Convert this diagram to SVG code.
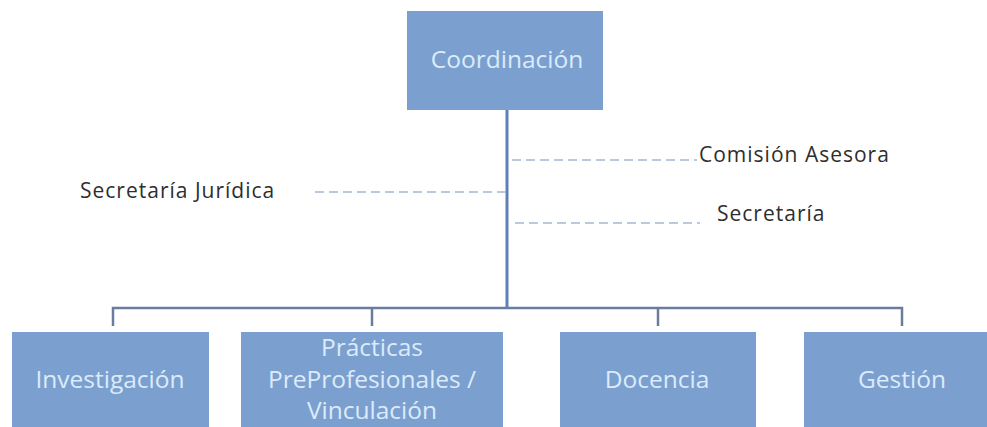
<svg xmlns="http://www.w3.org/2000/svg" width="987" height="427" viewBox="0 0 987 427">
  <style>
    .box { fill: #7ba0cf; }
    .boxtext { font-family: "Open Sans", "Liberation Sans", sans-serif; font-size: 24.5px; fill: #dcebfa; text-anchor: middle; }
    .label { font-family: "Open Sans", "Liberation Sans", sans-serif; font-size: 21px; letter-spacing: 1px; fill: #2e2e2e; }
    .trunk { stroke: #5f7fb8; stroke-width: 3; fill: none; }
    .bus { stroke: #6b7d9e; stroke-width: 2.5; fill: none; }
    .dash { stroke: #a7b6d3; stroke-width: 1.5; stroke-dasharray: 9 5; fill: none; }
  </style>
  <rect width="987" height="427" fill="#ffffff"/>

  <!-- connectors -->
  <g id="connectors">
    <line class="trunk" x1="507" y1="110" x2="507" y2="308"/>
    <path class="bus" d="M113 326 V308 H902 V326 M372 308 V326 M658 308 V326"/>
    <line class="dash" x1="512" y1="160" x2="697" y2="160"/>
    <line class="dash" x1="315" y1="192" x2="506" y2="192"/>
    <line class="dash" x1="515" y1="223" x2="700" y2="223"/>
  </g>

  <!-- top node -->
  <g id="coordinacion">
    <rect class="box" x="407" y="11" width="196" height="99"/>
    <text class="boxtext" x="507" y="68">Coordinación</text>
  </g>

  <!-- side labels -->
  <g id="comision-asesora">
    <text class="label" x="699" y="162">Comisión Asesora</text>
  </g>
  <g id="secretaria-juridica">
    <text class="label" x="80" y="198">Secretaría Jurídica</text>
  </g>
  <g id="secretaria">
    <text class="label" x="717" y="221">Secretaría</text>
  </g>

  <!-- bottom nodes -->
  <g id="investigacion">
    <rect class="box" x="12" y="332" width="197" height="100"/>
    <text class="boxtext" x="110" y="388">Investigación</text>
  </g>
  <g id="practicas">
    <rect class="box" x="241" y="332" width="262" height="100"/>
    <text class="boxtext" x="372" y="356">Prácticas</text>
    <text class="boxtext" x="372" y="388">PreProfesionales /</text>
    <text class="boxtext" x="372" y="419">Vinculación</text>
  </g>
  <g id="docencia">
    <rect class="box" x="560" y="332" width="196" height="100"/>
    <text class="boxtext" x="657" y="388">Docencia</text>
  </g>
  <g id="gestion">
    <rect class="box" x="804" y="332" width="198" height="100"/>
    <text class="boxtext" x="902" y="388">Gestión</text>
  </g>
</svg>
